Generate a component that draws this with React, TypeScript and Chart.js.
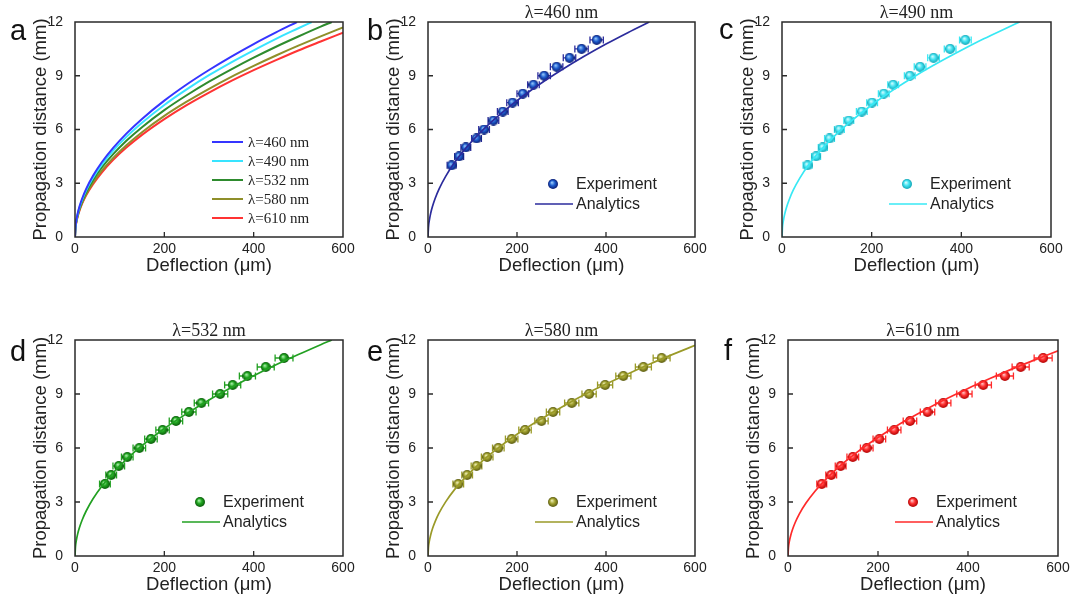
import React, { useEffect, useRef } from "react";
import { Chart, registerables } from "chart.js";
Chart.register(...registerables);

// ---------- DATA ----------
const wavelengths = ["λ=460 nm", "λ=490 nm", "λ=532 nm", "λ=580 nm", "λ=610 nm"];
const xTicks = [0, 200, 400, 600];
const yTicks = [0, 3, 6, 9, 12];

// analytic curves (deflection µm -> propagation distance mm)
const curveX460 = [0, 1, 3, 6, 10, 16, 25, 40, 60, 85, 115, 150, 200, 250, 300, 350, 400, 450, 497];
const curveY460 = [0, 0.54, 0.93, 1.32, 1.70, 2.15, 2.69, 3.40, 4.17, 4.96, 5.77, 6.59, 7.61, 8.51, 9.32, 10.07, 10.77, 11.42, 12.0];
const curveX490 = [0, 1, 3, 6, 10, 16, 25, 40, 60, 85, 115, 150, 200, 250, 300, 350, 400, 450, 500, 530];
const curveY490 = [0, 0.52, 0.90, 1.28, 1.65, 2.08, 2.61, 3.30, 4.04, 4.81, 5.59, 6.38, 7.37, 8.24, 9.03, 9.75, 10.42, 11.06, 11.65, 12.0];
const curveX532 = [0, 1, 3, 6, 10, 16, 25, 40, 60, 85, 115, 150, 200, 250, 300, 350, 400, 450, 500, 550, 575];
const curveY532 = [0, 0.50, 0.87, 1.23, 1.58, 2.00, 2.50, 3.17, 3.88, 4.61, 5.37, 6.13, 7.08, 7.91, 8.67, 9.36, 10.01, 10.62, 11.19, 11.74, 12.0];
const curveX580 = [0, 1, 3, 6, 10, 16, 25, 40, 60, 85, 115, 150, 200, 250, 300, 350, 400, 450, 500, 550, 600];
const curveY580 = [0, 0.48, 0.83, 1.17, 1.51, 1.91, 2.39, 3.02, 3.70, 4.40, 5.12, 5.85, 6.76, 7.55, 8.27, 8.94, 9.55, 10.13, 10.68, 11.20, 11.70];
const curveX610 = [0, 1, 3, 6, 10, 16, 25, 40, 60, 85, 115, 150, 200, 250, 300, 350, 400, 450, 500, 550, 600];
const curveY610 = [0, 0.47, 0.81, 1.14, 1.47, 1.86, 2.33, 2.94, 3.60, 4.29, 4.99, 5.70, 6.58, 7.36, 8.06, 8.71, 9.31, 9.87, 10.41, 10.91, 11.40];

// experiment points
const expZ = [4, 4.5, 5, 5.5, 6, 6.5, 7, 7.5, 8, 8.5, 9, 9.5, 10, 10.5, 11];
const expX460 = [53, 70, 85, 109, 126, 147, 168, 190, 213, 237, 261, 289, 318, 345, 379];
const expX490 = [57, 76, 91, 106, 128, 149, 178, 201, 227, 248, 285, 308, 338, 375, 409];
const expX532 = [67, 81, 98, 117, 144, 170, 196, 226, 255, 283, 325, 353, 386, 427, 468];
const expX580 = [68, 88, 109, 133, 158, 188, 218, 255, 281, 323, 362, 398, 439, 484, 525];
const expX610 = [75, 96, 117, 144, 175, 203, 236, 271, 310, 345, 392, 434, 482, 517, 567];
// horizontal error (± µm)
const err460 = [10, 10, 11, 11, 12, 12, 12, 13, 13, 13, 14, 14, 14, 15, 15];
const err490 = [10, 10, 10, 11, 11, 11, 12, 12, 12, 12, 12, 13, 13, 13, 13];
const err532 = [12, 12, 13, 13, 14, 14, 15, 15, 16, 16, 17, 18, 18, 19, 20];
const err580 = [12, 12, 12, 13, 13, 14, 14, 15, 15, 16, 16, 17, 17, 18, 19];
const err610 = [11, 12, 12, 13, 14, 14, 15, 15, 16, 17, 17, 18, 19, 19, 20];

const curvesX = [curveX460, curveX490, curveX532, curveX580, curveX610];
const curvesY = [curveY460, curveY490, curveY532, curveY580, curveY610];
const expsX = [expX460, expX490, expX532, expX580, expX610];
const errs = [err460, err490, err532, err580, err610];

// ---------- STYLE / LAYOUT ----------
const SANS = "'Liberation Sans', Arial, sans-serif";
const SERIF = "'Liberation Serif', 'Times New Roman', serif";
const allColors = ["#3535ff", "#38e4ff", "#2e8b2e", "#8f8f2a", "#ff3333"];
const lineColors = ["#2b2b9c", "#38e8f4", "#22a022", "#9a9a28", "#ff2a2a"];
const sphereStops = [
  ["#a8d8ff", "#1f5fd0", "#0a1a70"],
  ["#e8ffff", "#44e4f2", "#12a6b6"],
  ["#b8f5b8", "#22a822", "#0a5a0a"],
  ["#f4f4c0", "#a4a432", "#5a5a10"],
  ["#ffd8d8", "#ff3333", "#b00000"],
];

type Cfg = {
  plotLeft: number; plotTop: number; plotW: number; plotH: number;
  letter: string; letterX: number; letterBase: number;
  series: number; // -1 = all curves
};

const panels: Cfg[] = [
  { plotLeft: 75, plotTop: 22, plotW: 268, plotH: 215, letter: "a", letterX: 10, letterBase: 40, series: -1 },
  { plotLeft: 428, plotTop: 22, plotW: 267, plotH: 215, letter: "b", letterX: 367, letterBase: 40, series: 0 },
  { plotLeft: 782, plotTop: 22, plotW: 269, plotH: 215, letter: "c", letterX: 719, letterBase: 39, series: 1 },
  { plotLeft: 75, plotTop: 340, plotW: 268, plotH: 216, letter: "d", letterX: 10, letterBase: 361, series: 2 },
  { plotLeft: 428, plotTop: 340, plotW: 267, plotH: 216, letter: "e", letterX: 367, letterBase: 361, series: 3 },
  { plotLeft: 788, plotTop: 340, plotW: 270, plotH: 216, letter: "f", letterX: 724, letterBase: 360, series: 4 },
];

const PAD_L = 75, PAD_T = 22, PAD_R = 20, XAX_H = 50;

function sphere(stops: string[], d = 10): HTMLCanvasElement {
  const c = document.createElement("canvas");
  c.width = d; c.height = d;
  const g = c.getContext("2d")!;
  const grad = g.createRadialGradient(d * 0.38, d * 0.34, 0, d / 2, d / 2, d / 2);
  grad.addColorStop(0, stops[0]);
  grad.addColorStop(0.5, stops[1]);
  grad.addColorStop(1, stops[2]);
  g.fillStyle = grad;
  g.beginPath();
  g.arc(d / 2, d / 2, d / 2, 0, Math.PI * 2);
  g.fill();
  return c;
}

function Panel({ cfg }: { cfg: Cfg }) {
  const ref = useRef<HTMLCanvasElement>(null);
  const W = PAD_L + cfg.plotW + PAD_R;
  const H = PAD_T + cfg.plotH + XAX_H;
  const canvasLeft = cfg.plotLeft - PAD_L;
  const canvasTop = cfg.plotTop - PAD_T;

  useEffect(() => {
    const s = cfg.series;
    const datasets: any[] = [];
    let img: HTMLCanvasElement | null = null;
    if (s < 0) {
      for (let i = 0; i < 5; i++) {
        datasets.push({
          label: wavelengths[i],
          data: curvesX[i].map((x, k) => ({ x, y: curvesY[i][k] })),
          showLine: true, borderColor: allColors[i], borderWidth: 2,
          pointRadius: 0, cubicInterpolationMode: "monotone", fill: false,
        });
      }
    } else {
      img = sphere(sphereStops[s]);
      datasets.push({
        label: "Analytics",
        data: curvesX[s].map((x, k) => ({ x, y: curvesY[s][k] })),
        showLine: true, borderColor: lineColors[s], borderWidth: 1.7,
        pointRadius: 0, cubicInterpolationMode: "monotone", fill: false,
      });
      datasets.push({
        label: "Experiment",
        data: expsX[s].map((x, k) => ({ x, y: expZ[k] })),
        showLine: false, pointStyle: img, pointRadius: 5,
      });
    }

    const plugin = {
      id: "decor" + cfg.letter,
      beforeDatasetsDraw(chart: any) {
        if (s < 0) return;
        const ctx = chart.ctx;
        const xs = chart.scales.x, ys = chart.scales.y;
        ctx.save();
        ctx.strokeStyle = lineColors[s];
        ctx.lineWidth = 1.3;
        expsX[s].forEach((x: number, k: number) => {
          const e = errs[s][k];
          const x1 = xs.getPixelForValue(x - e), x2 = xs.getPixelForValue(x + e);
          const y = ys.getPixelForValue(expZ[k]);
          ctx.beginPath();
          ctx.moveTo(x1, y); ctx.lineTo(x2, y);
          ctx.moveTo(x1, y - 3.5); ctx.lineTo(x1, y + 3.5);
          ctx.moveTo(x2, y - 3.5); ctx.lineTo(x2, y + 3.5);
          ctx.stroke();
        });
        ctx.restore();
      },
      afterDatasetsDraw(chart: any) {
        const ctx = chart.ctx;
        const a = chart.chartArea;
        const xs = chart.scales.x, ys = chart.scales.y;
        ctx.save();
        ctx.strokeStyle = "#2a2a2a";
        ctx.lineWidth = 1.5;
        ctx.strokeRect(a.left, a.top, a.right - a.left, a.bottom - a.top);
        ctx.lineWidth = 1.3;
        ctx.beginPath();
        xTicks.slice(1, -1).forEach((v) => {
          const px = xs.getPixelForValue(v);
          ctx.moveTo(px, a.bottom); ctx.lineTo(px, a.bottom - 5);
        });
        yTicks.slice(1, -1).forEach((v) => {
          const py = ys.getPixelForValue(v);
          ctx.moveTo(a.left, py); ctx.lineTo(a.left + 5, py);
        });
        ctx.stroke();
        ctx.restore();
      },
      afterDraw(chart: any) {
        const ctx = chart.ctx;
        const a = chart.chartArea;
        ctx.save();
        // panel letter
        ctx.fillStyle = "#111";
        ctx.font = `29px ${SANS}`;
        ctx.textAlign = "left";
        ctx.textBaseline = "alphabetic";
        ctx.fillText(cfg.letter, cfg.letterX - canvasLeft, cfg.letterBase - canvasTop);
        if (s < 0) {
          ctx.font = `15px ${SERIF}`;
          ctx.textBaseline = "middle";
          for (let i = 0; i < 5; i++) {
            const y = a.top + 120 + i * 19;
            ctx.strokeStyle = allColors[i];
            ctx.lineWidth = 2;
            ctx.beginPath();
            ctx.moveTo(a.left + 137, y); ctx.lineTo(a.left + 168, y);
            ctx.stroke();
            ctx.fillStyle = "#222";
            ctx.fillText(wavelengths[i], a.left + 173, y + 1);
          }
        } else {
          // title
          ctx.font = `18px ${SERIF}`;
          ctx.fillStyle = "#222";
          ctx.textAlign = "center";
          ctx.textBaseline = "middle";
          ctx.fillText(wavelengths[s], (a.left + a.right) / 2, a.top - 9);
          // legend
          ctx.textAlign = "left";
          ctx.font = `16px ${SANS}`;
          const y1 = a.top + 162, y2 = a.top + 182;
          if (img) ctx.drawImage(img, a.left + 125 - 5, y1 - 5, 10, 10);
          ctx.fillText("Experiment", a.left + 148, y1 + 1);
          ctx.strokeStyle = lineColors[s];
          ctx.lineWidth = 1.7;
          ctx.beginPath();
          ctx.moveTo(a.left + 107, y2); ctx.lineTo(a.left + 145, y2);
          ctx.stroke();
          ctx.fillText("Analytics", a.left + 148, y2 + 1);
        }
        ctx.restore();
      },
    };

    const tickFont = { family: SANS, size: 14 };
    const titleFont = { family: SANS, size: 18.5 };
    const chart = new Chart(ref.current!, {
      type: "scatter",
      data: { datasets },
      options: {
        responsive: false,
        animation: false,
        devicePixelRatio: 1,
        layout: { padding: { left: 0, top: PAD_T, right: PAD_R, bottom: 0 } },
        plugins: { legend: { display: false }, tooltip: { enabled: false } },
        scales: {
          x: {
            type: "linear", min: 0, max: 600,
            afterBuildTicks: (sc: any) => { sc.ticks = xTicks.map((v) => ({ value: v })); },
            ticks: { padding: 4, font: tickFont, color: "#222", autoSkip: false, maxRotation: 0 },
            grid: { display: false, drawTicks: false },
            border: { display: false },
            title: { display: true, text: "Deflection (μm)", font: titleFont, color: "#222", padding: { top: 0, bottom: 10 } },
            afterFit: (sc: any) => { sc.height = XAX_H; },
          },
          y: {
            type: "linear", min: 0, max: 12,
            afterBuildTicks: (sc: any) => { sc.ticks = yTicks.map((v) => ({ value: v })); },
            ticks: { padding: 12, font: tickFont, color: "#222", autoSkip: false },
            grid: { display: false, drawTicks: false },
            border: { display: false },
            title: { display: true, text: "Propagation distance (mm)", font: titleFont, color: "#222", padding: { top: 30, bottom: 0 } },
            afterFit: (sc: any) => { sc.width = PAD_L; },
          },
        },
      } as any,
      plugins: [plugin],
    });
    return () => chart.destroy();
  }, []);

  return (
    <canvas
      ref={ref}
      width={W}
      height={H}
      style={{ position: "absolute", left: canvasLeft, top: canvasTop, width: W, height: H }}
    />
  );
}

export default function App() {
  return (
    <div style={{ position: "absolute", left: 0, top: 0, width: 1073, height: 605, background: "#fff", overflow: "hidden" }}>
      {panels.map((p) => (
        <Panel key={p.letter} cfg={p} />
      ))}
    </div>
  );
}
